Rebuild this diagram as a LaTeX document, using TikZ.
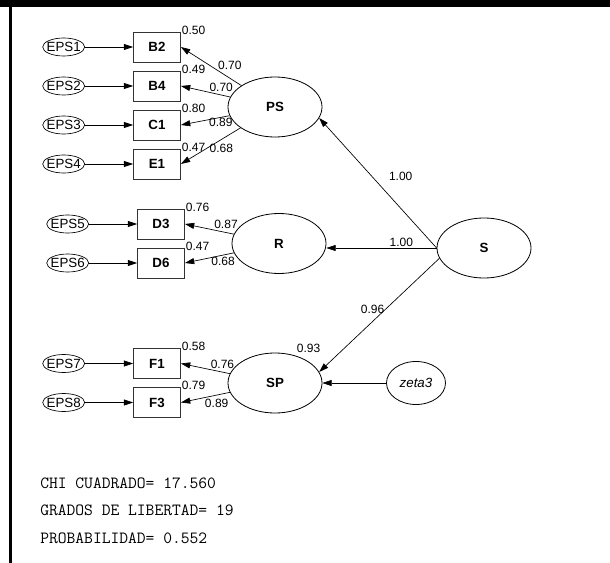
\documentclass[tikz,border=0pt]{standalone}
\usepackage{fontspec}
\setmainfont{Liberation Sans}
\usetikzlibrary{shapes.geometric,arrows.meta,positioning}

\begin{document}
\begin{tikzpicture}[
    x=0.75pt, y=-0.75pt,
    obs/.style={rectangle, draw=black!80, line width=0.6pt, minimum width=35.25pt, minimum height=22.5pt, font=\bfseries},
    err/.style={ellipse, draw, line width=0.5pt, minimum width=31.5pt, minimum height=13.5pt, inner xsep=-1.7pt, inner ysep=0pt},
    lat/.style={ellipse, draw, line width=0.6pt, minimum width=70.5pt, minimum height=45pt, font=\bfseries},
    dist/.style={ellipse, draw, line width=0.6pt, minimum width=44.25pt, minimum height=32.25pt, font=\itshape},
    arrow/.style={line width=0.5pt, ->, >={Stealth[length=7pt,width=4.5pt,inset=0pt]}},
    lbl/.style={font=\fontsize{9}{10}\selectfont, inner sep=0.5pt},
    res/.style={lbl, anchor=west, yshift=1pt},
    stat/.style={font=\ttfamily\fontsize{12.8}{14}\selectfont, anchor=west, inner sep=0pt},
    node distance=29.25pt
]
    \useasboundingbox (0,0) rectangle (610,563);
    \fill (0,0) rectangle (610,7);
    \fill (9,7) rectangle (12,563);

    % latent variables
    \node[lat] (PS) at (275,107) {PS};
    \node[lat] (R) at (279,243.5) {R};
    \node[lat] (SP) at (275,383) {SP};
    \node[lat] (S) at (484,248) {S};
    \node[dist, right of=SP, node distance=105.75pt] (zeta3) {zeta3};

    % indicators
    \node[obs] (B2) at (157,47) {B2};
    \node[obs, below of=B2] (B4) {B4};
    \node[obs, below of=B4] (C1) {C1};
    \node[obs, below of=C1] (E1) {E1};
    \node[obs] (D3) at (161,224) {D3};
    \node[obs, below of=D3] (D6) {D6};
    \node[obs] (F1) at (157,363.5) {F1};
    \node[obs, below of=F1] (F3) {F3};

    % errors
    \node[err, left of=B2, node distance=70pt] (eps1) {EPS1};
    \node[err, left of=B4, node distance=70pt] (eps2) {EPS2};
    \node[err, left of=C1, node distance=70pt] (eps3) {EPS3};
    \node[err, left of=E1, node distance=70pt] (eps4) {EPS4};
    \node[err, left of=D3, node distance=70pt] (eps5) {EPS5};
    \node[err, left of=D6, node distance=70pt] (eps6) {EPS6};
    \node[err, left of=F1, node distance=70pt] (eps7) {EPS7};
    \node[err, left of=F3, node distance=70pt] (eps8) {EPS8};

    \draw[arrow] (eps1) -- (B2);
    \draw[arrow] (eps2) -- (B4);
    \draw[arrow] (eps3) -- (C1);
    \draw[arrow] (eps4) -- (E1);
    \draw[arrow] (eps5) -- (D3);
    \draw[arrow] (eps6) -- (D6);
    \draw[arrow] (eps7) -- (F1);
    \draw[arrow] (eps8) -- (F3);

    % residual values
    \node[res] (rB2) at (B2.north east) {0.50};
    \node[res] (rB4) at (B4.north east) {0.49};
    \node[res] (rC1) at (C1.north east) {0.80};
    \node[res] (rE1) at (E1.north east) {0.47};
    \node[res] (rD3) at (D3.north east) {0.76};
    \node[res] (rD6) at (D6.north east) {0.47};
    \node[res] (rF1) at (F1.north east) {0.58};
    \node[res] (rF3) at (F3.north east) {0.79};
    \node[lbl, above=6pt] (rSP) at (SP.north east) {0.93};

    % loadings
    \draw[arrow] (PS) -- node[lbl, pos=0.4, anchor=south west] {0.70} (B2.east);
    \draw[arrow] (PS) -- node[lbl, pos=0.44, anchor=south west] {0.70} (B4.east);
    \draw[arrow] (PS) -- node[lbl, pos=0.18, anchor=north] {0.89} (C1.east);
    \draw[arrow] (PS) -- node[lbl, pos=0.58, anchor=west, xshift=2pt] {0.68} (E1.east);
    \draw[arrow] (R) -- node[lbl, pos=0.42, anchor=south west] {0.87} (D3.east);
    \draw[arrow] (R) -- node[lbl, pos=0.22, anchor=north, yshift=-1pt] {0.68} (D6.east);
    \draw[arrow] (SP) -- node[lbl, pos=0.41, anchor=south west] {0.76} (F1.east);
    \draw[arrow] (SP) -- node[lbl, pos=0.27, anchor=north, yshift=-2pt] {0.89} (F3.east);

    % structural paths
    \draw[arrow] (S.west) -- node[lbl, pos=0.55, right=12pt] {1.00} (PS.-14);
    \draw[arrow] (S.west) -- node[lbl, pos=0.32, above] {1.00} (S.west -| R.east);
    \draw[arrow] (S.193) -- node[lbl, pos=0.45, anchor=east] {0.96} (SP.14);
    \draw[arrow] (zeta3) -- (SP);

    % fit
    \node[stat] (chi) at (40,483) {CHI CUADRADO= 17.560};
    \node[stat] (gl) at (40,510) {GRADOS DE LIBERTAD= 19};
    \node[stat] (prob) at (40,538) {PROBABILIDAD= 0.552};
\end{tikzpicture}
\end{document}
